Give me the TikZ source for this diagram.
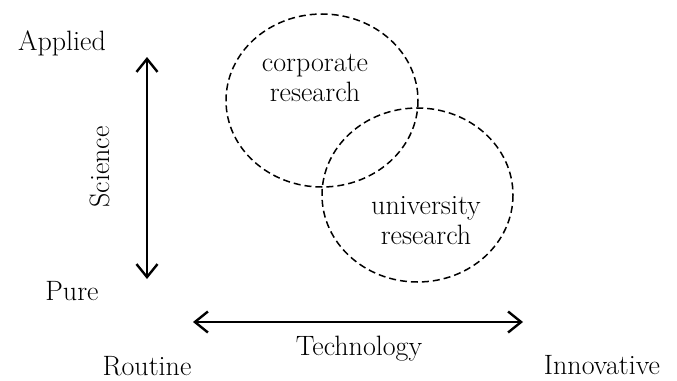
\documentclass[tikz,border=0pt]{standalone}
\usetikzlibrary{arrows.meta}
\begin{document}
\begin{tikzpicture}[x=1pt,y=-1pt,
  lbl/.style={inner sep=0pt,font=\fontsize{28}{30}\selectfont},
  blob/.style={draw,line width=1.5pt,dash pattern=on 7pt off 4pt},
  axis/.style={line width=2.4pt,{Straight Barb[length=13pt,width=21pt,line width=2.4pt]}-{Straight Barb[length=13pt,width=21pt,line width=2.4pt]}}]
\useasboundingbox (0,0) rectangle (677,380);
\draw[blob] (322,100.5) ellipse [x radius=96, y radius=86.5];
\draw[blob] (417.5,195) ellipse [x radius=95.5, y radius=87];
\node[lbl,align=center] (corp) at (315,78) {corporate\\research};
\node[lbl,align=center] (univ) at (426,221) {university\\research};
\node[lbl] (applied) at (62,43) {Applied};
\node[lbl] (pure) at (72,291) {Pure};
\node[lbl,rotate=90] (sci) at (100,167) {Science};
\node[lbl] (routine) at (147,366) {Routine};
\node[lbl] (innov) at (602,365) {Innovative};
\node[lbl] (tech) at (359,349) {Technology};
\coordinate (vt) at (147,57);
\coordinate (vb) at (147,279);
\coordinate (hl) at (193,322);
\coordinate (hr) at (523,322);
\draw[axis] (vb) -- (vt);
\draw[axis] (hl) -- (hr);
\end{tikzpicture}
\end{document}
